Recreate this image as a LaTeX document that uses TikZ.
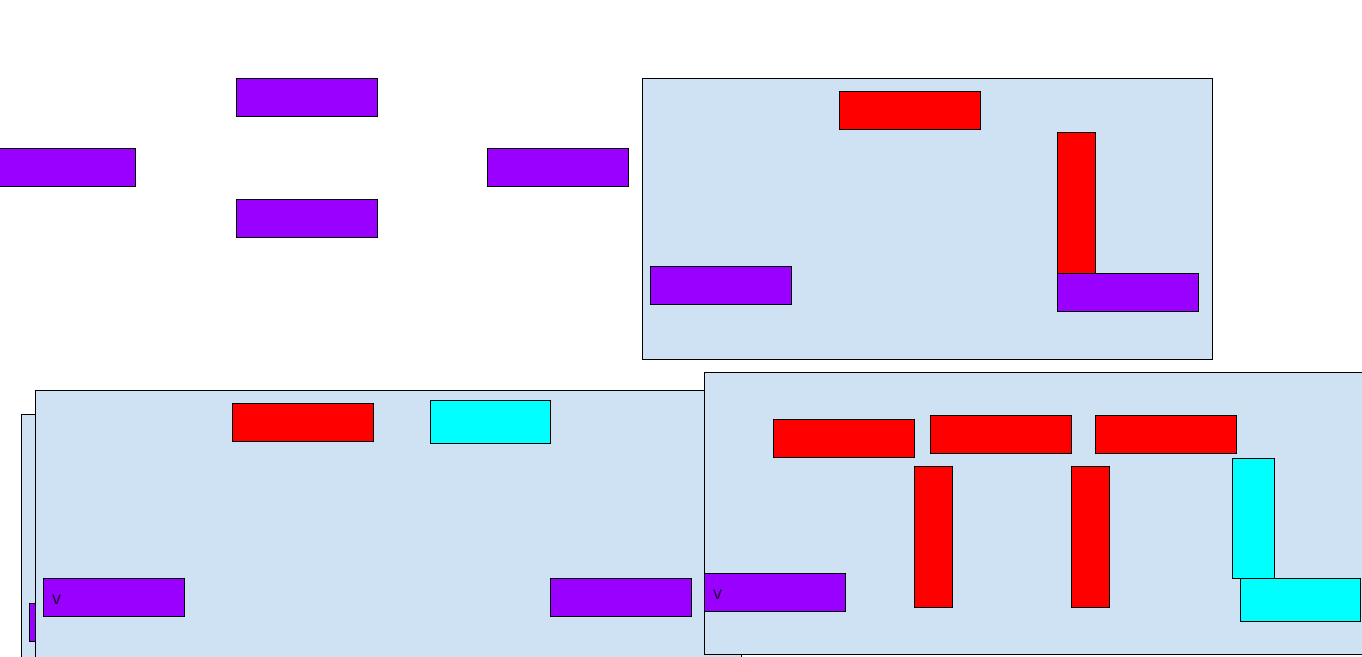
\documentclass[tikz,border=0pt]{standalone}
\usepackage{fontspec}
\setmainfont{Liberation Sans}
\usepackage{xcolor}
\usepackage{tikz}
\usetikzlibrary{positioning}
\definecolor{panelblue}{HTML}{CFE2F3}
\definecolor{blockviolet}{HTML}{9900FF}
\definecolor{blockcyan}{HTML}{00FFFF}
\definecolor{blockred}{HTML}{FF0000}
\tikzset{
  font={\fontsize{18pt}{20}\selectfont}}

\begin{document}
\begin{tikzpicture}[x=1pt, y=-1pt]

        \tikzset{blk/.style = {draw=black, line width=0.7pt, inner sep=0pt, outer sep=0pt, anchor=north west},
                 panel/.style = {blk, fill=panelblue},
                 vio/.style = {blk, fill=blockviolet, minimum width=141pt, minimum height=38pt},
                 redh/.style = {blk, fill=blockred, minimum width=141pt, minimum height=38pt},
                 redv/.style = {blk, fill=blockred, minimum width=38pt, minimum height=141pt},
                 cyanh/.style = {blk, fill=blockcyan, minimum width=120pt, minimum height=43pt},
                 cyanv/.style = {blk, fill=blockcyan, minimum width=42pt, minimum height=120pt},
                 vmark/.style = {label={[anchor=west, xshift=9pt, yshift=-2.5pt, inner sep=0pt, text=black!80!blockviolet]west:v}}}

        \useasboundingbox (0,0) rectangle (1362,656);
        \clip (0,0) rectangle (1362,656);

        % free blocks
        \node[vio] (a1) at (236,78) {};
        \node[vio] (a2) at (-6,148) {};
        \node[vio] (a3) at (236,199) {};
        \node[vio] (a4) at (487,148) {};

        % top panel
        \node[panel, minimum width=570pt, minimum height=281pt] (t) at (642,78) {};
        \node[redh] (t1) at (839,91) {};
        \node[redv] (t2) at (1057,132) {};
        \node[vio] (t3) at (1057,273) {};
        \node[vio] (t4) at (650,266) {};

        % bottom left panels
        \node[panel, minimum width=706pt, minimum height=280pt] (b0) at (21,414) {};
        \node[vio] (b0a) at (29,603) {};
        \node[panel, minimum width=706pt, minimum height=300pt] (b) at (35,390) {};
        \node[redh] (b1) at (232,403) {};
        \node[cyanh] (b2) at (430,400) {};
        \node[vio, vmark] (b3) at (43,578) {};
        \node[vio] (b4) at (550,578) {};

        % bottom right panel
        \node[panel, minimum width=700pt, minimum height=282pt] (r) at (704,372) {};
        \node[redh] (r1) at (773,419) {};
        \node[redh] (r2) at (930,415) {};
        \node[redh] (r3) at (1095,415) {};
        \node[redv] (r4) at (914,466) {};
        \node[redv] (r5) at (1071,466) {};
        \node[cyanv] (r6) at (1232,458) {};
        \node[cyanh] (r7) at (1240,578) {};
        \node[vio, vmark] (r8) at (704,573) {};

\end{tikzpicture}
\end{document}
